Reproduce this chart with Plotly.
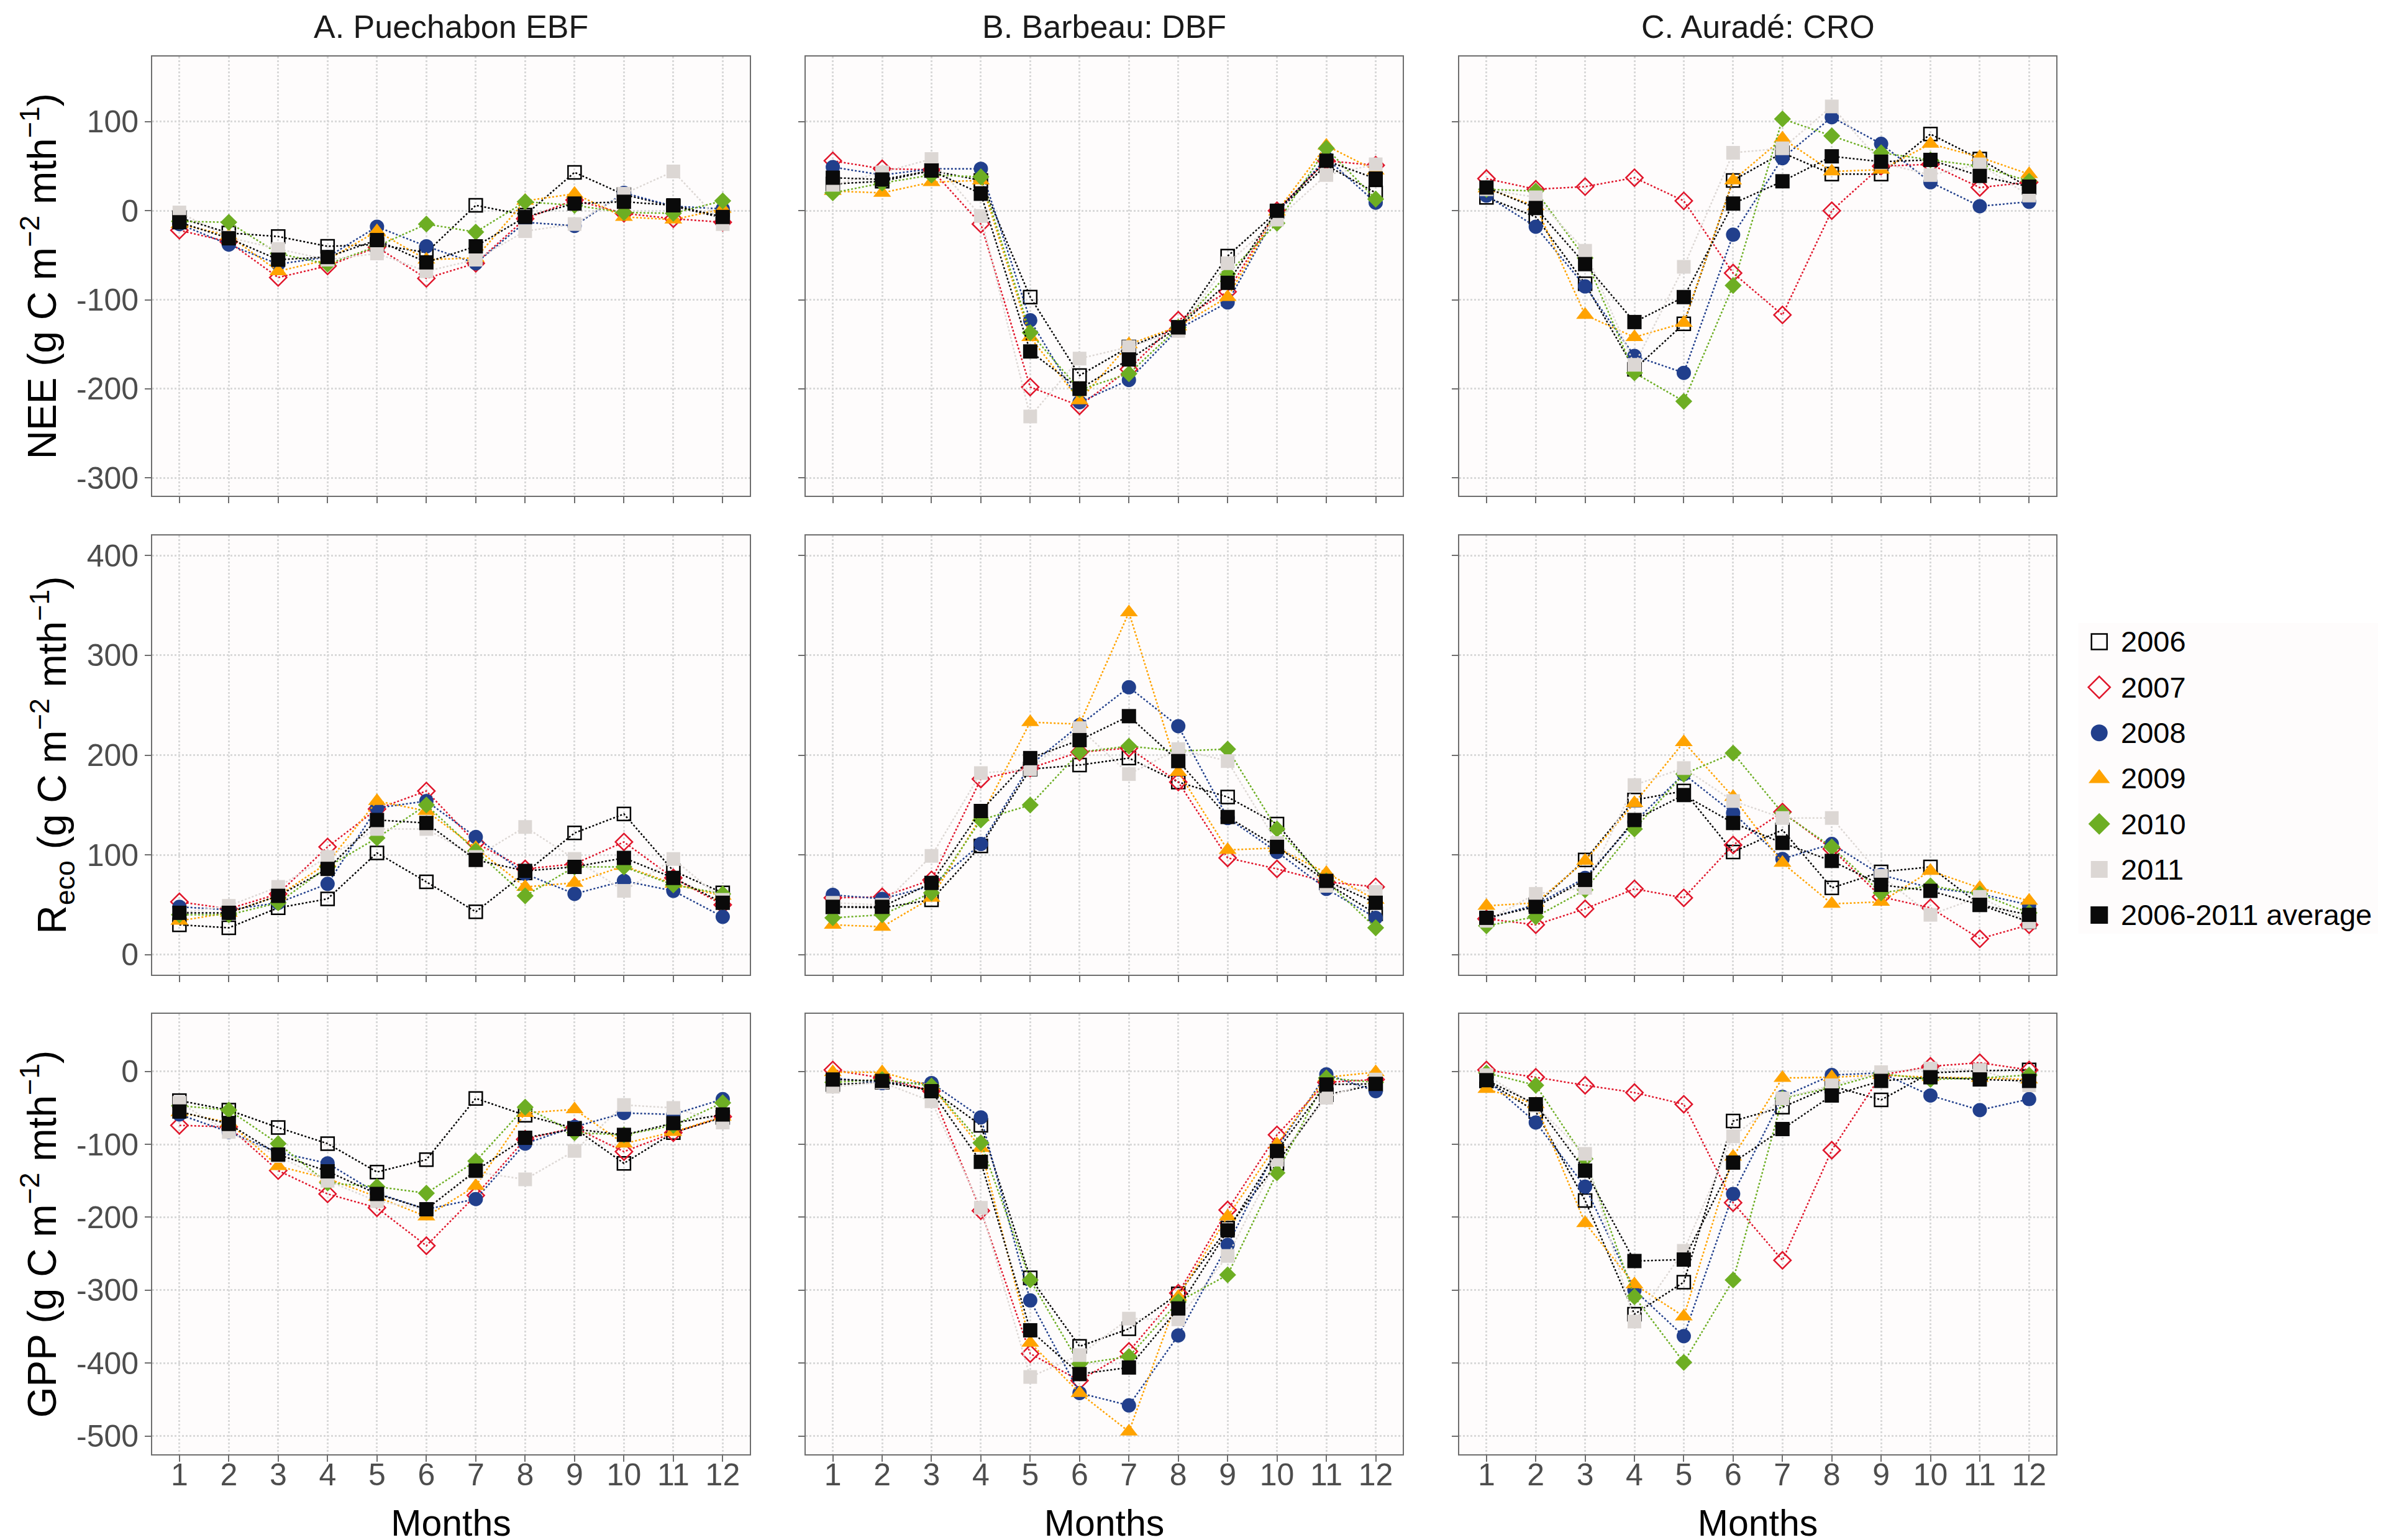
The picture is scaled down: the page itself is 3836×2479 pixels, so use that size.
"""Monthly NEE / Reco / GPP at three sites, 2006-2011 + average"""
import plotly.graph_objects as go

MONTHS = list(range(1, 13))
YEARS = ["2006", "2007", "2008", "2009", "2010", "2011", "2006-2011 average"]
SITES = ["A. Puechabon EBF", "B. Barbeau: DBF", "C. Auradé: CRO"]

# NEE (g C m-2 mth-1)
NEE_A = {
    "2006": [-8, -25, -29, -40, -38, -47, 6, -5, 43, 18, 5, -8],
    "2007": [-22, -35, -75, -62, -41, -76, -59, -9, 12, -3, -9, -13],
    "2008": [-15, -38, -60, -52, -18, -40, -59, -13, -17, 20, 5, 2],
    "2009": [-15, -28, -68, -55, -23, -55, -53, 11, 19, -7, -10, 2],
    "2010": [-12, -13, -48, -60, -40, -15, -24, 10, 6, -2, -3, 11],
    "2011": [-2, -30, -43, -55, -48, -68, -55, -23, -15, 19, 44, -15],
    "2006-2011 average": [-13, -31, -55, -52, -33, -58, -40, -7, 8, 10, 6, -7],
}
NEE_B = {
    "2006": [30, 33, 45, 34, -97, -185, -153, -131, -51, -1, 51, 20],
    "2007": [56, 47, 46, -15, -198, -219, -178, -123, -91, 0, 56, 51],
    "2008": [49, 40, 47, 47, -123, -215, -190, -133, -103, -2, 59, 9],
    "2009": [22, 20, 32, 34, -142, -213, -150, -130, -97, -1, 73, 45],
    "2010": [20, 31, 40, 38, -137, -201, -183, -131, -71, -14, 70, 13],
    "2011": [29, 43, 58, -6, -231, -166, -153, -135, -59, -10, 40, 52],
    "2006-2011 average": [37, 35, 45, 19, -158, -200, -167, -131, -81, 0, 56, 36],
}
NEE_C = {
    "2006": [15, -7, -82, -178, -127, 34, 65, 41, 41, 86, 58, 26],
    "2007": [36, 24, 27, 37, 11, -70, -117, 0, 50, 52, 26, 32],
    "2008": [17, -18, -85, -163, -182, -27, 59, 105, 75, 32, 5, 10],
    "2009": [25, 5, -117, -142, -126, 34, 81, 44, 46, 75, 60, 41],
    "2010": [24, 22, -53, -182, -214, -84, 103, 84, 65, 57, 50, 33],
    "2011": [24, 15, -45, -173, -63, 65, 70, 117, 54, 40, 52, 17],
    "2006-2011 average": [26, 3, -60, -125, -97, 8, 33, 61, 55, 57, 39, 27],
}

# Reco
RECO_A = {
    "2006": [30, 27, 47, 56, 102, 73, 43, 82, 122, 141, 84, 62],
    "2007": [53, 46, 61, 108, 146, 164, 112, 86, 91, 113, 77, 50],
    "2008": [48, 45, 52, 71, 147, 154, 118, 81, 61, 74, 64, 38],
    "2009": [34, 42, 59, 92, 154, 144, 107, 68, 72, 89, 71, 59],
    "2010": [40, 40, 52, 88, 117, 150, 104, 59, 88, 88, 70, 61],
    "2011": [42, 49, 68, 98, 126, 126, 98, 128, 96, 64, 96, 55],
    "2006-2011 average": [42, 42, 59, 86, 135, 132, 95, 84, 88, 97, 77, 52],
}
RECO_B = {
    "2006": [48, 47, 55, 109, 186, 190, 197, 173, 158, 131, 72, 41],
    "2007": [57, 58, 75, 176, 187, 203, 207, 173, 97, 86, 73, 68],
    "2008": [60, 56, 69, 111, 190, 230, 268, 229, 137, 103, 66, 37],
    "2009": [30, 28, 57, 138, 233, 231, 343, 183, 105, 107, 82, 55],
    "2010": [37, 40, 62, 135, 150, 203, 209, 204, 206, 126, 74, 27],
    "2011": [52, 50, 99, 182, 186, 227, 181, 206, 194, 112, 69, 63],
    "2006-2011 average": [48, 48, 72, 144, 197, 215, 239, 194, 138, 108, 74, 52],
}
RECO_C = {
    "2006": [36, 50, 95, 155, 164, 103, 125, 67, 83, 88, 50, 33],
    "2007": [36, 30, 46, 66, 57, 110, 143, 106, 58, 47, 16, 30],
    "2008": [36, 50, 77, 133, 181, 142, 96, 111, 80, 67, 61, 50],
    "2009": [49, 52, 94, 152, 213, 158, 92, 51, 53, 84, 67, 54],
    "2010": [29, 38, 65, 126, 181, 202, 142, 108, 62, 69, 61, 42],
    "2011": [34, 61, 67, 170, 187, 154, 137, 137, 79, 40, 58, 33],
    "2006-2011 average": [37, 48, 75, 135, 160, 132, 112, 94, 70, 64, 50, 40],
}

# GPP
GPP_A = {
    "2006": [-40, -53, -77, -99, -138, -121, -37, -60, -78, -126, -84, -63],
    "2007": [-74, -76, -136, -168, -187, -239, -170, -93, -77, -110, -84, -62],
    "2008": [-59, -83, -111, -126, -167, -189, -175, -99, -76, -57, -59, -38],
    "2009": [-56, -70, -130, -147, -172, -199, -157, -57, -52, -99, -83, -62],
    "2010": [-47, -53, -99, -153, -158, -167, -123, -49, -84, -87, -74, -43],
    "2011": [-43, -83, -116, -150, -178, -189, -138, -148, -109, -46, -50, -70],
    "2006-2011 average": [-55, -72, -114, -137, -168, -189, -136, -91, -79, -87, -71, -59],
}
GPP_B = {
    "2006": [-18, -15, -25, -74, -283, -377, -353, -305, -215, -126, -32, -18],
    "2007": [2, -9, -27, -191, -387, -424, -384, -304, -190, -87, -15, -11],
    "2008": [-9, -16, -16, -63, -314, -441, -458, -362, -238, -105, -4, -27],
    "2009": [-1, -1, -20, -105, -372, -441, -494, -309, -199, -100, -8, -1],
    "2010": [-15, -11, -20, -98, -286, -401, -391, -316, -279, -139, -9, -15],
    "2011": [-21, -15, -41, -187, -419, -389, -339, -340, -253, -121, -36, -11],
    "2006-2011 average": [-11, -13, -27, -124, -355, -415, -406, -325, -218, -109, -18, -17],
}
GPP_C = {
    "2006": [-13, -55, -177, -333, -289, -68, -49, -20, -39, -2, 1, 2],
    "2007": [2, -8, -19, -29, -45, -180, -259, -108, -5, 7, 12, 2],
    "2008": [-11, -70, -158, -300, -363, -168, -35, -5, -2, -33, -53, -38],
    "2009": [-24, -45, -208, -292, -336, -117, -9, -8, -5, -8, -9, -11],
    "2010": [-2, -19, -120, -309, -399, -286, -37, -22, -3, -11, -9, -5],
    "2011": [-5, -47, -113, -343, -246, -89, -37, -19, -1, 4, 2, -19],
    "2006-2011 average": [-12, -45, -136, -260, -258, -125, -79, -33, -13, -8, -11, -13],
}

NEE_TICKS = [-300, -200, -100, 0, 100]
RECO_TICKS = [0, 100, 200, 300, 400]
GPP_TICKS = [-500, -400, -300, -200, -100, 0]

ROWS = [
    ("NEE (g C m<sup>−2</sup> mth<sup>−1</sup>)", [NEE_A, NEE_B, NEE_C], NEE_TICKS, [-320, 173]),
    ("R<sub>eco</sub> (g C m<sup>−2</sup> mth<sup>−1</sup>)", [RECO_A, RECO_B, RECO_C], RECO_TICKS, [-20, 420]),
    ("GPP (g C m<sup>−2</sup> mth<sup>−1</sup>)", [GPP_A, GPP_B, GPP_C], GPP_TICKS, [-525, 79]),
]

# marker / line style per year: symbol, colour, size in panel, size in legend
STYLE = {
    "2006": ("square-open", "#000000", 21, 25),
    "2007": ("diamond-open", "#e0162b", 21, 27),
    "2008": ("circle", "#213f8c", 23, 27),
    "2009": ("triangle-up", "#ffa300", 25, 30),
    "2010": ("diamond", "#6dae23", 21, 27),
    "2011": ("square", "#dcd7d4", 22, 27),
    "2006-2011 average": ("square", "#0a0a0a", 23, 28),
}

FONT = "Liberation Sans, Arial, sans-serif"
W, H = 3836, 2479
X_DOM = [(0.0618, 0.3126), (0.3360, 0.5866), (0.6103, 0.8608)]
Y_DOM = [(0.6813, 0.9665), (0.3703, 0.6555), (0.0589, 0.3449)]
TICK_GREY = "#4d4d4d"

fig = go.Figure()
layout = {}

for r, (ytitle, panels, yticks, yrange) in enumerate(ROWS):
    for c, data in enumerate(panels):
        n = r * 3 + c + 1
        sfx = "" if n == 1 else str(n)
        for yr in YEARS:
            sym, col, size, _ = STYLE[yr]
            fig.add_trace(go.Scatter(
                x=MONTHS, y=data[yr], mode="lines+markers", name=yr,
                xaxis="x" + sfx, yaxis="y" + sfx, showlegend=False,
                line=dict(color=col, width=2.5, dash="dot"),
                marker=dict(symbol=sym, color=col, size=size,
                            line=dict(width=2.5 if "open" in sym else 0, color=col)),
            ))
        common = dict(showline=True, linecolor="#6e6e6e", linewidth=2, mirror=True,
                      showgrid=True, gridcolor="#d9d9d9", gridwidth=2.5, griddash="dot",
                      zeroline=False, ticks="outside", ticklen=10, tickwidth=2,
                      tickcolor="#6e6e6e", tickfont=dict(size=50, color=TICK_GREY, family=FONT))
        xa = dict(common, domain=X_DOM[c], anchor="y" + sfx, range=[0.45, 12.55],
                  tickvals=MONTHS, ticktext=[str(m) for m in MONTHS], showticklabels=(r == 2),
                  ticklabelstandoff=-22)
        if r == 2:
            xa["title"] = dict(text="Months", font=dict(size=59, color="#000000", family=FONT),
                               standoff=30)
        ya = dict(common, domain=Y_DOM[r], anchor="x" + sfx, range=yrange,
                  tickvals=yticks, ticktext=[str(v) for v in yticks], showticklabels=(c == 0))
        if c == 0:
            ya["title"] = dict(text=ytitle, font=dict(size=64, color="#000000", family=FONT),
                               standoff=12)
        layout["xaxis" + sfx] = xa
        layout["yaxis" + sfx] = ya

# legend drawn in its own small hidden axes so the symbols can be as big as in the original
for i, yr in enumerate(YEARS):
    sym, col, _, lsize = STYLE[yr]
    fig.add_trace(go.Scatter(
        x=[0.068], y=[i], mode="markers", name=yr, xaxis="x10", yaxis="y10",
        showlegend=False, hoverinfo="name",
        marker=dict(symbol=sym, color=col, size=lsize,
                    line=dict(width=2.5 if "open" in sym else 0, color=col)),
    ))
layout["xaxis10"] = dict(domain=[0.870, 1.0], anchor="y10", range=[0, 1], visible=False)
layout["yaxis10"] = dict(domain=[1 - 1495 / H, 1 - 995 / H], anchor="x10",
                         range=[6.41, -0.409], visible=False)

annotations = [
    dict(text=yr, x=0.134, y=i, xref="x10", yref="y10", xanchor="left", yanchor="middle",
         showarrow=False, font=dict(size=47, color="#000000", family=FONT))
    for i, yr in enumerate(YEARS)
]
for c, site in enumerate(SITES):
    annotations.append(dict(
        text=site, x=sum(X_DOM[c]) / 2, y=1 - 4 / H, xref="paper", yref="paper",
        xanchor="center", yanchor="top", showarrow=False,
        font=dict(size=52, color="#1a1a1a", family=FONT),
    ))

fig.update_layout(
    **layout,
    annotations=annotations,
    width=W, height=H,
    margin=dict(l=0, r=0, t=0, b=0),
    paper_bgcolor="#ffffff",
    plot_bgcolor="#fefcfc",
    font=dict(family=FONT, color="#000000"),
    showlegend=False,
    hovermode="closest",
)

fig.write_html("out.html")
